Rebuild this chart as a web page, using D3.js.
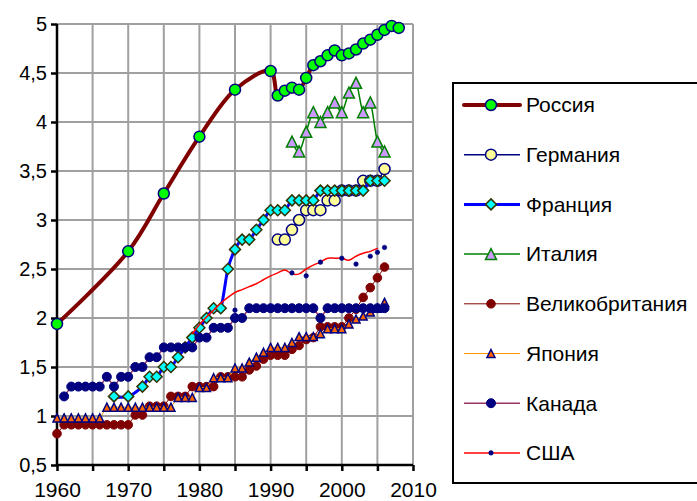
<!DOCTYPE html>
<html><head><meta charset="utf-8">
<script src="https://cdn.jsdelivr.net/npm/d3@7"></script>
<style>
html,body{margin:0;padding:0;background:#fff;}
svg{display:block;font-family:"Liberation Sans",Arial,sans-serif;}
</style></head>
<body>
<svg id="chart" width="697" height="501"></svg>
<script>
// ---- data ----
const russiaYears = [1960,1970,1975,1980,1985,1990,1991,1992,1993,1994,1995,1996,1997,1998,1999,2000,2001,2002,2003,2004,2005,2006,2007,2008];
const russiaValues = [1.94,2.68,3.27,3.85,4.33,4.52,4.27,4.32,4.35,4.33,4.45,4.58,4.62,4.68,4.73,4.68,4.70,4.74,4.80,4.84,4.89,4.94,4.98,4.96];

const germanyYears = [1991,1992,1993,1994,1995,1996,1997,1998,1999,2000,2001,2002,2003,2004,2005,2006];
const germanyValues = [2.8,2.8,2.9,3.0,3.1,3.1,3.1,3.2,3.2,3.3,3.3,3.3,3.4,3.4,3.4,3.52];

const franceYears = [1968,1970,1972,1973,1974,1975,1976,1977,1978,1979,1980,1981,1982,1983,1984,1985,1986,1987,1988,1989,1990,1991,1992,1993,1994,1995,1996,1997,1998,1999,2000,2001,2002,2003,2004,2005,2006];
const franceValues = [1.2,1.2,1.3,1.4,1.4,1.5,1.5,1.6,1.7,1.8,1.9,2.0,2.1,2.1,2.5,2.7,2.8,2.8,2.9,3.0,3.1,3.1,3.1,3.2,3.2,3.2,3.2,3.3,3.3,3.3,3.3,3.3,3.3,3.3,3.4,3.4,3.4];

const italyYears = [1993,1994,1995,1996,1997,1998,1999,2000,2001,2002,2003,2004,2005,2006];
const italyValues = [3.8,3.7,3.9,4.1,4.0,4.1,4.2,4.1,4.3,4.4,4.1,4.2,3.8,3.7];

const ukYears = d3.range(1960, 2007);
const ukValues = [0.82,
  0.91,0.91,0.91,0.91,0.91,0.91,0.91,0.91,0.91,0.91,
  1.01,1.01, 1.10,1.10,1.10, 1.20,1.20,1.20, 1.30,1.30,1.30,1.30,
  1.40,1.40,1.40,1.40, 1.47,1.51,1.58, 1.62,1.62,1.62, 1.68,1.72,1.78,1.80,
  1.91,1.91,1.91,1.91, 2.00,2.09,2.21,2.31,2.41,2.52];

const japanYears = d3.range(1960, 2007);
const japanValues = [0.98,0.98,0.98,0.98,0.98,0.98,0.98,
  1.09,1.09,1.09,1.09,1.09,1.09,1.09,1.09,1.09,1.09,
  1.19,1.19,1.19, 1.29,1.29, 1.39,1.39,1.39, 1.49,1.49,
  1.55,1.60,1.65, 1.70,1.70,1.70, 1.75, 1.81,1.81,1.81, 1.84,
  1.89,1.89,1.89, 1.94,1.99,2.02,2.06,2.10,2.16];

const canadaYears = d3.range(1961, 2007);
const canadaValues = [1.2, 1.3,1.3,1.3,1.3,1.3, 1.4,1.3,1.4,1.4, 1.5,1.5, 1.6,1.6,
  1.7,1.7,1.7,1.7,1.7, 1.8,1.8, 1.9,1.9,1.9, 2.0,2.0,
  2.1,2.1,2.1,2.1,2.1,2.1,2.1,2.1,2.1,2.1, 2.0,
  2.1,2.1,2.1,2.1,2.1,2.1,2.1,2.1,2.1];

const usaLineYears = d3.range(1979, 2006);
const usaLineValues = [1.84,1.93,2.01,2.08,2.15,2.21,2.26,2.29,2.32,2.35,2.39,2.43,2.46,2.49,2.45,2.45,2.50,2.54,2.57,2.61,2.61,2.61,2.59,2.63,2.66,2.68,2.71];
const usaDotYears = [1985,1993,1995,1997,2000,2002,2004,2005,2006];
const usaDotValues = [2.08,2.46,2.43,2.57,2.61,2.55,2.63,2.67,2.72];

const seriesNames = ["Россия","Германия","Франция","Италия","Великобритания","Япония","Канада","США"];
const yTicks = [0.5,1,1.5,2,2.5,3,3.5,4,4.5,5];
const xTicks = [1960,1965,1970,1975,1980,1985,1990,1995,2000,2005,2010];

// ---- setup ----
const svg = d3.select("#chart");
const x = d3.scaleLinear().domain([1960,2010]).range([57,413]);
const y = d3.scaleLinear().domain([0.5,5]).range([465,24]);

const zip = (ys, vs) => ys.map((yr,i)=>({x:yr,y:vs[i]}));

// grid
const grid = svg.append("g").attr("stroke","#a0a0a0").attr("stroke-width",2);
yTicks.filter(v=>v>0.5).forEach(v=>{
  grid.append("line").attr("x1",x(1960)).attr("x2",x(2010)).attr("y1",y(v)).attr("y2",y(v));
});
xTicks.filter(v=>v>1960).forEach(v=>{
  grid.append("line").attr("x1",x(v)).attr("x2",x(v)).attr("y1",y(0.5)).attr("y2",y(5));
});

// axes
const fmtY = d => (Number.isInteger(d) ? String(d) : String(d).replace(".",","));
const yAxis = svg.append("g").attr("transform",`translate(${x(1960)},0)`)
  .call(d3.axisLeft(y).tickValues(yTicks).tickSize(6).tickPadding(4).tickFormat(fmtY));
const xAxis = svg.append("g").attr("transform",`translate(0,${y(0.5)})`)
  .call(d3.axisBottom(x).tickValues(xTicks).tickSize(6).tickPadding(11).tickFormat(d => d%10===0 ? d : ""));
[yAxis,xAxis].forEach(a=>{
  a.select(".domain").attr("stroke","#000").attr("stroke-width",2.5);
  a.selectAll(".tick line").attr("stroke","#000").attr("stroke-width",2.5);
  a.selectAll("text").attr("fill","#000").style("font-family","'Liberation Sans',Arial,sans-serif");
});
yAxis.selectAll("text").style("font-size","20px");
xAxis.selectAll("text").style("font-size","21px");
xAxis.select(".domain").attr("d",`M${x(1960)},0H${x(2010)}`);
yAxis.select(".domain").attr("d",`M0,${y(0.5)}V${y(5)}`);

// marker helpers
const tri = (cx,cy,s) => `M${cx},${cy-s}L${cx+s},${cy+s}L${cx-s},${cy+s}Z`;
const dia = (cx,cy,s) => `M${cx},${cy-s}L${cx+s},${cy}L${cx},${cy+s}L${cx-s},${cy}Z`;

const styles = [
  {data: zip(russiaYears,russiaValues), line:"#800000", lw:4, curve:d3.curveCatmullRom.alpha(0.5), marker:"circle", size:5.5, fill:"#00ff00", stroke:"#000080", sw:1.5},
  {data: zip(germanyYears,germanyValues), line:"#000080", lw:1.5, curve:d3.curveCardinal.tension(0), marker:"circle", size:5.5, fill:"#ffff99", stroke:"#000080", sw:1.5},
  {data: zip(franceYears,franceValues), line:"#0000ff", lw:3, curve:d3.curveCardinal.tension(0), marker:"diamond", size:5.5, fill:"#00ffff", stroke:"#333300", sw:1.5},
  {data: zip(italyYears,italyValues), line:"#008000", lw:1.5, curve:d3.curveCardinal.tension(0), marker:"triangle", size:5.5, fill:"#cc99ff", stroke:"#008000", sw:1.5},
  {data: zip(ukYears,ukValues), line:"#800000", lw:1, curve:d3.curveLinear, marker:"circle", size:4.3, fill:"#800000", stroke:"#800000", sw:1},
  {data: zip(japanYears,japanValues), line:"#ff9900", lw:1, curve:d3.curveLinear, marker:"triangle", size:4, fill:"#ff6600", stroke:"#000080", sw:1.5},
  {data: zip(canadaYears,canadaValues), line:"#993366", lw:1.5, curve:d3.curveLinear, marker:"circle", size:4.5, fill:"#000080", stroke:"#000080", sw:1},
  {data: zip(usaLineYears,usaLineValues), dots: zip(usaDotYears,usaDotValues), line:"#ff0000", lw:1.5, curve:d3.curveCardinal.tension(0), marker:"circle", size:2.3, fill:"#000080", stroke:"#000080", sw:0.5}
];

function drawMarker(g, m, cx, cy, st){
  if(m==="circle") g.append("circle").attr("cx",cx).attr("cy",cy).attr("r",st.size);
  else if(m==="triangle") g.append("path").attr("d",tri(cx,cy,st.size));
  else g.append("path").attr("d",dia(cx,cy,st.size));
}

const plot = svg.append("g");
styles.forEach(st=>{
  const line = d3.line().x(d=>x(d.x)).y(d=>y(d.y)).curve(st.curve);
  plot.append("path").datum(st.data).attr("d",line).attr("fill","none")
    .attr("stroke",st.line).attr("stroke-width",st.lw).attr("stroke-linejoin","round").attr("stroke-linecap","round");
  const mg = plot.append("g").attr("fill",st.fill).attr("stroke",st.stroke).attr("stroke-width",st.sw);
  (st.dots || st.data).forEach(d=>drawMarker(mg, st.marker, x(d.x), y(d.y), st));
});

// legend
const lg = svg.append("g");
lg.append("rect").attr("x",453).attr("y",83).attr("width",260).attr("height",400)
  .attr("fill","#fff").attr("stroke","#000").attr("stroke-width",2);
seriesNames.forEach((name,i)=>{
  const st = styles[i];
  const cy = 105 + i*49.7;
  lg.append("line").attr("x1",464).attr("x2",520).attr("y1",cy).attr("y2",cy)
    .attr("stroke",st.line).attr("stroke-width",st.lw).attr("stroke-linecap", i===0?"round":"butt");
  const mg = lg.append("g").attr("fill",st.fill).attr("stroke",st.stroke).attr("stroke-width",st.sw);
  drawMarker(mg, st.marker, 491, cy, st);
  lg.append("text").attr("x",526).attr("y",cy).attr("dy","0.35em")
    .style("font-size","21px").attr("fill","#000").text(name);
});
</script>
</body></html>
